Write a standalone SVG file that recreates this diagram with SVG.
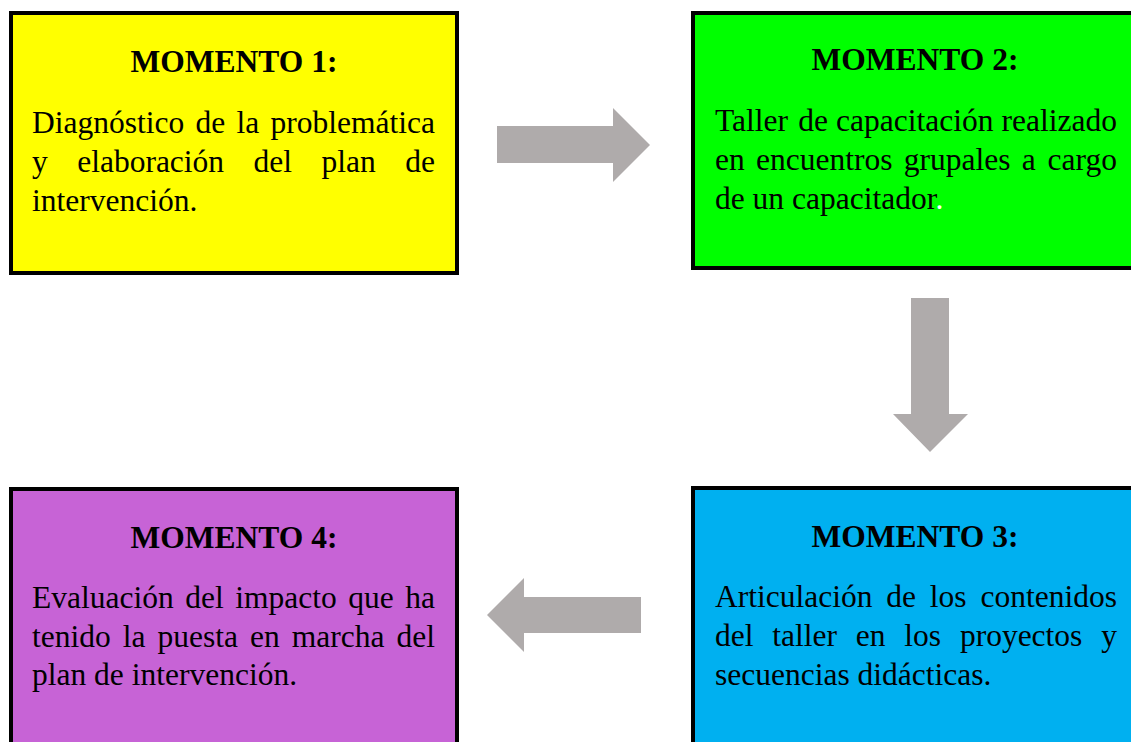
<svg xmlns="http://www.w3.org/2000/svg" width="1131" height="742" viewBox="0 0 1131 742">
<style>
.box{stroke:#000;stroke-width:4}
.t{font-family:"Liberation Serif","Times New Roman",serif;font-size:31.5px;fill:#000}
.h{font-weight:bold;text-anchor:middle}
.e{text-anchor:end}
.arr{fill:#AFABAB}
</style>
<rect width="1131" height="742" fill="#fff"/>
<g id="connectors">
<polygon class="arr" points="497,126 613,126 613,108 650,145 613,182 613,163 497,163"/>
<polygon class="arr" points="911,298 949,298 949,414 968,414 930,452 893,414 911,414"/>
<polygon class="arr" points="641,597 524,597 524,578 487,615 524,652 524,633 641,633"/>
</g>
<g id="momento1">
<rect class="box" x="11" y="13" width="446" height="260" fill="#FFFF00"/>
<text class="t h" x="234" y="72">MOMENTO 1:</text>
<text class="t" y="133"><tspan x="32">Diagnóstico</tspan><tspan x="195.5">de</tspan><tspan x="236.5">la</tspan><tspan x="435" class="e">problemática</tspan></text>
<text class="t" y="172"><tspan x="32">y</tspan><tspan x="77.2">elaboración</tspan><tspan x="253.6">del</tspan><tspan x="321.6">plan</tspan><tspan x="435" class="e">de</tspan></text>
<text class="t" x="32" y="211">intervención.</text>
</g>
<g id="momento2">
<rect class="box" x="693" y="13" width="452" height="255" fill="#00FF00"/>
<text class="t h" x="915" y="70">MOMENTO 2:</text>
<text class="t" y="131"><tspan x="715">Taller</tspan><tspan x="798.3">de</tspan><tspan x="836.1">capacitación</tspan><tspan x="1117" class="e">realizado</tspan></text>
<text class="t" y="170"><tspan x="715">en</tspan><tspan x="756">encuentros</tspan><tspan x="903.8">grupales</tspan><tspan x="1021.8">a</tspan><tspan x="1117" class="e">cargo</tspan></text>
<text class="t" x="715" y="209">de un capacitador<tspan fill="#fff">.</tspan></text>
</g>
<g id="momento3">
<rect class="box" x="693" y="488" width="452" height="270" fill="#00B0F0"/>
<text class="t h" x="915" y="547">MOMENTO 3:</text>
<text class="t" y="607"><tspan x="715">Articulación</tspan><tspan x="886.3">de</tspan><tspan x="929.8">los</tspan><tspan x="1117" class="e">contenidos</tspan></text>
<text class="t" y="646"><tspan x="715">del</tspan><tspan x="772.3">taller</tspan><tspan x="855.8">en</tspan><tspan x="904.3">los</tspan><tspan x="959.9">proyectos</tspan><tspan x="1117" class="e">y</tspan></text>
<text class="t" x="715" y="685">secuencias didácticas.</text>
</g>
<g id="momento4">
<rect class="box" x="11" y="489" width="446" height="270" fill="#C763D6"/>
<text class="t h" x="234" y="548">MOMENTO 4:</text>
<text class="t" y="608"><tspan x="32">Evaluación</tspan><tspan x="185.2">del</tspan><tspan x="235.2">impacto</tspan><tspan x="348.2">que</tspan><tspan x="435" class="e">ha</tspan></text>
<text class="t" y="647"><tspan x="32">tenido</tspan><tspan x="122.8">la</tspan><tspan x="157.5">puesta</tspan><tspan x="250">en</tspan><tspan x="291.7">marcha</tspan><tspan x="435" class="e">del</tspan></text>
<text class="t" x="32" y="685">plan de intervención.</text>
</g>
</svg>
